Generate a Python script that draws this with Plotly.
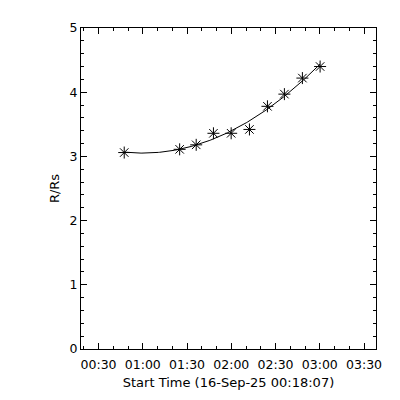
import numpy as np
import plotly.graph_objects as go

# Data (height-time points)
times = ["2025-09-16 00:47:25", "2025-09-16 01:25:00", "2025-09-16 01:36:13",
         "2025-09-16 01:47:55", "2025-09-16 01:59:55", "2025-09-16 02:12:19",
         "2025-09-16 02:24:31", "2025-09-16 02:36:01", "2025-09-16 02:48:13",
         "2025-09-16 03:00:13"]
heights = [3.06, 3.11, 3.18, 3.36, 3.36, 3.42, 3.78, 3.97, 4.22, 4.40]
start_time = "2025-09-16 00:18:07"
end_time = "2025-09-16 03:38:07"
x_title = "Start Time (16-Sep-25 00:18:07)"
y_title = "R/Rs"

# quadratic fit line through the measured points
t = np.array([np.datetime64(s.replace(" ", "T")) for s in times])
t0 = np.datetime64(start_time.replace(" ", "T"))
tsec = (t - t0).astype("timedelta64[s]").astype(float)
coef = np.polyfit(tsec, heights, 2)
fit_sec = np.linspace(tsec[0], tsec[-1], 200)
fit_y = np.polyval(coef, fit_sec)
fit_t = t0 + fit_sec.astype("timedelta64[s]")
fit_t = [str(v).replace("T", " ") for v in fit_t]

fig = go.Figure()
fig.add_trace(go.Scatter(x=fit_t, y=fit_y, mode="lines",
                         line=dict(color="black", width=1), hoverinfo="skip"))
fig.add_trace(go.Scatter(x=times, y=heights, mode="markers",
                         marker=dict(symbol="asterisk-open", size=10, color="black",
                                     line=dict(color="black", width=1))))

font = dict(family="DejaVu Sans", size=12, color="black")
fig.update_layout(
    width=400, height=400, showlegend=False,
    paper_bgcolor="white", plot_bgcolor="white",
    margin=dict(l=73, r=32, t=17, b=59),
    font=font,
)
fig.update_xaxes(
    type="date", range=[start_time, end_time],
    tick0="2025-09-16 00:00:00", dtick=30 * 60 * 1000, tickformat="%H:%M",
    ticks="inside", ticklen=6, tickcolor="black", tickwidth=1,
    minor=dict(dtick=10 * 60 * 1000, tick0="2025-09-16 00:00:00", ticks="inside",
               ticklen=3, tickcolor="black", showgrid=False),
    showline=True, linecolor="black", linewidth=1, mirror="allticks",
    showgrid=False, zeroline=False, ticklabelstandoff=4,
    title=dict(text=x_title, font=dict(family="DejaVu Sans", size=13), standoff=6),
    tickfont=dict(family="DejaVu Sans", size=12.5),
)
fig.update_yaxes(
    range=[0, 5], dtick=1, tick0=0,
    ticks="inside", ticklen=6, tickcolor="black", tickwidth=1,
    minor=dict(dtick=0.2, tick0=0, ticks="inside", ticklen=3, tickcolor="black",
               showgrid=False),
    showline=True, linecolor="black", linewidth=1, mirror="allticks",
    showgrid=False, zeroline=False,
    title=dict(text=y_title, font=dict(family="DejaVu Sans", size=13), standoff=6),
    tickfont=dict(family="DejaVu Sans", size=12.5),
)
fig.write_html("out.html")
